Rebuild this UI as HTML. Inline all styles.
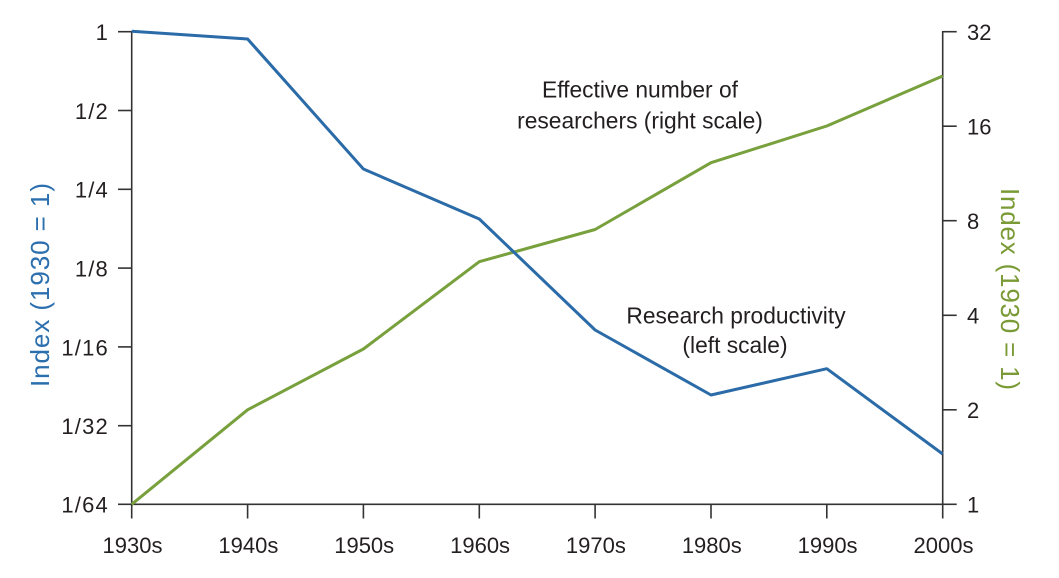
<!DOCTYPE html>
<html>
<head>
<meta charset="utf-8">
<style>
  html, body { margin:0; padding:0; background:#ffffff; }
  svg { display:block; }
  text { font-family: "Liberation Sans", Arial, sans-serif; fill:#231f20; }
</style>
</head>
<body>
<svg width="1059" height="578" viewBox="0 0 1059 578" xmlns="http://www.w3.org/2000/svg">
  <rect x="0" y="0" width="1059" height="578" fill="#ffffff"/>

  <!-- axes -->
  <g stroke="#333333" stroke-width="1.6" fill="none">
    <line x1="131.7" y1="31" x2="131.7" y2="505"/>
    <line x1="942.7" y1="31" x2="942.7" y2="505"/>
    <line x1="131.7" y1="504.3" x2="942.7" y2="504.3"/>
    <!-- left ticks -->
    <line x1="118" y1="31.7" x2="131.7" y2="31.7"/>
    <line x1="118" y1="110.5" x2="131.7" y2="110.5"/>
    <line x1="118" y1="189.3" x2="131.7" y2="189.3"/>
    <line x1="118" y1="268.1" x2="131.7" y2="268.1"/>
    <line x1="118" y1="346.9" x2="131.7" y2="346.9"/>
    <line x1="118" y1="425.7" x2="131.7" y2="425.7"/>
    <line x1="118" y1="504.3" x2="131.7" y2="504.3"/>
    <!-- right ticks -->
    <line x1="942.7" y1="31.7" x2="956.7" y2="31.7"/>
    <line x1="942.7" y1="126.2" x2="956.7" y2="126.2"/>
    <line x1="942.7" y1="220.7" x2="956.7" y2="220.7"/>
    <line x1="942.7" y1="315.3" x2="956.7" y2="315.3"/>
    <line x1="942.7" y1="409.8" x2="956.7" y2="409.8"/>
    <line x1="942.7" y1="504.3" x2="956.7" y2="504.3"/>
    <!-- bottom ticks -->
    <line x1="131.7" y1="504.3" x2="131.7" y2="518.5"/>
    <line x1="247.6" y1="504.3" x2="247.6" y2="518.5"/>
    <line x1="363.4" y1="504.3" x2="363.4" y2="518.5"/>
    <line x1="479.3" y1="504.3" x2="479.3" y2="518.5"/>
    <line x1="595.1" y1="504.3" x2="595.1" y2="518.5"/>
    <line x1="711.0" y1="504.3" x2="711.0" y2="518.5"/>
    <line x1="826.8" y1="504.3" x2="826.8" y2="518.5"/>
    <line x1="942.7" y1="504.3" x2="942.7" y2="518.5"/>
  </g>

  <!-- left tick labels -->
  <g font-size="22" text-anchor="end" letter-spacing="1.2">
    <text x="109" y="40">1</text>
    <text x="109" y="118.8">1/2</text>
    <text x="109" y="197.6">1/4</text>
    <text x="109" y="276.5">1/8</text>
    <text x="109" y="355.3">1/16</text>
    <text x="109" y="434">1/32</text>
    <text x="109" y="512.6">1/64</text>
  </g>

  <!-- right tick labels -->
  <g font-size="22" text-anchor="start">
    <text x="967" y="39.8">32</text>
    <text x="967" y="134.3">16</text>
    <text x="967" y="228.8">8</text>
    <text x="967" y="323.4">4</text>
    <text x="967" y="417.9">2</text>
    <text x="967" y="512.4">1</text>
  </g>

  <!-- bottom tick labels -->
  <g font-size="22" text-anchor="middle">
    <text x="132.5" y="553">1930s</text>
    <text x="248.4" y="553">1940s</text>
    <text x="364.2" y="553">1950s</text>
    <text x="480.1" y="553">1960s</text>
    <text x="595.9" y="553">1970s</text>
    <text x="711.8" y="553">1980s</text>
    <text x="827.6" y="553">1990s</text>
    <text x="943.5" y="553">2000s</text>
  </g>

  <!-- axis titles -->
  <text transform="translate(49,285) rotate(-90)" font-size="26" text-anchor="middle" style="fill:#2c6fae" textLength="204" lengthAdjust="spacing">Index (1930 = 1)</text>
  <text transform="translate(1001,289) rotate(90)" font-size="26" text-anchor="middle" style="fill:#7a9a35" textLength="202" lengthAdjust="spacing">Index (1930 = 1)</text>

  <!-- series -->
  <polyline fill="none" stroke="#78a03c" stroke-width="3" stroke-linejoin="round"
    points="131.7,504.3 247.6,409.8 363.4,349 479.3,261.7 595.1,229.5 711.0,162.7 826.8,126 942.7,76"/>
  <polyline fill="none" stroke="#2a6ba8" stroke-width="3" stroke-linejoin="round"
    points="131.7,31.3 247.6,39 363.4,169 479.3,219 595.1,330 711.0,395 826.8,368.7 942.7,454"/>

  <!-- annotations -->
  <g font-size="22.8" text-anchor="middle">
    <text x="640" y="97.3">Effective number of</text>
    <text x="640" y="128.5">researchers (right scale)</text>
    <text x="736" y="323.3">Research productivity</text>
    <text x="735" y="353">(left scale)</text>
  </g>
</svg>
</body>
</html>
